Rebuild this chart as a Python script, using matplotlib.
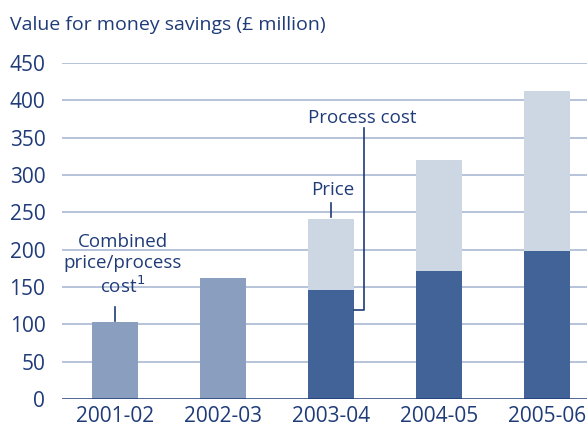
import matplotlib
matplotlib.use("Agg")
import matplotlib.pyplot as plt
import numpy as np

years = ["2001-02", "2002-03", "2003-04", "2004-05", "2005-06"]
combined = [103, 162, 0, 0, 0]
process_cost = [0, 0, 146, 171, 198]
price = [0, 0, 95, 149, 214]
yticks = [0, 50, 100, 150, 200, 250, 300, 350, 400, 450]

TXT = "#1f3b78"
GRID = "#a9b9d3"
C_COMB = "#8a9fbf"
C_PROC = "#426397"
C_PRICE = "#cdd7e3"

plt.rcParams['font.family'] = ['Open Sans', 'DejaVu Sans']

fig = plt.figure(figsize=(5.87, 4.30), dpi=100)
ax = fig.add_axes([62/587, 31/430, 1 - 62/587, 336/430])

x = np.arange(len(years))
w = 0.426
comb_arr = np.array(combined)
proc_arr = np.array(process_cost)
price_arr = np.array(price)
mask_c = comb_arr > 0
mask_p = proc_arr > 0
ax.bar(x[mask_c], comb_arr[mask_c], width=w, color=C_COMB, zorder=3)
ax.bar(x[mask_p], proc_arr[mask_p], width=w, color=C_PROC, zorder=3)
ax.bar(x[mask_p], price_arr[mask_p], bottom=proc_arr[mask_p], width=w, color=C_PRICE, zorder=3)

ax.set_ylim(0, 450)
ax.set_xlim(-0.49, 4.37)
ax.set_yticks(yticks)
for t in yticks[1:]:
    ax.axhline(t, color=GRID, lw=1.2, zorder=1)
ax.axhline(0, color=TXT, lw=1.8, zorder=4)
for s in ax.spines.values():
    s.set_visible(False)
ax.tick_params(axis='both', length=0, labelsize=15, colors=TXT)
ax.tick_params(axis='y', pad=12)
ax.tick_params(axis='x', pad=5)
ax.set_xticks(x)
ax.set_xticklabels(years)
for lab in ax.get_yticklabels():
    lab.set_horizontalalignment('right')

fig.text(10/587, 1 - 25/430, "Value for money savings (£ million)", color=TXT,
         fontsize=14, va='center', ha='left')

# annotations
ax.text(0.07, 179, "Combined\nprice/process\ncost$^1$", ha='center', va='center',
        color=TXT, fontsize=13.5, linespacing=1.2)
ax.plot([0, 0], [104, 123], color=TXT, lw=1.2, zorder=5)

ax.text(2.02, 280, "Price", ha='center', va='center', color=TXT, fontsize=13.5)
ax.plot([2, 2], [244, 262], color=TXT, lw=1.2, zorder=5)

ax.text(2.29, 377, "Process cost", ha='center', va='center', color=TXT, fontsize=13.5)
ax.plot([2.305, 2.305, 2.213], [363, 119, 119], color=TXT, lw=1.2, zorder=5)

fig.savefig("out.png", dpi=100)
